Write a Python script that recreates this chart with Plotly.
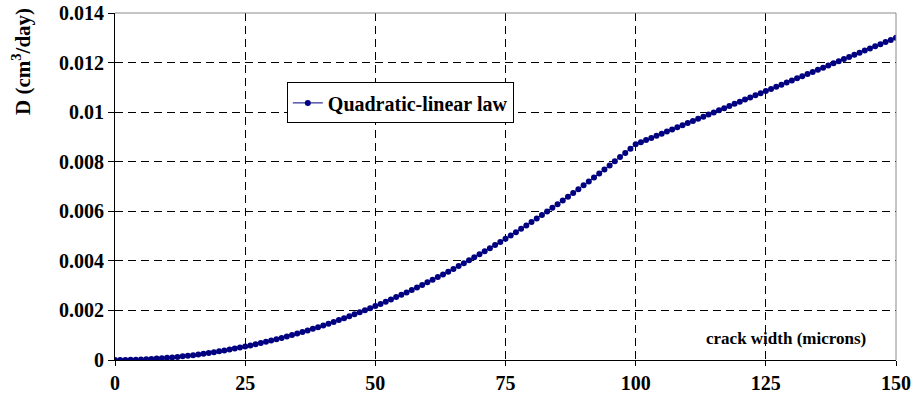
import plotly.graph_objects as go

# Crack width (microns), one point per micron
crack_width = list(range(0, 151))

# Flow rate D (cm^3/day) for the quadratic-linear law
flow_rate = [
    0.000000, 0.000001, 0.000003, 0.000008, 0.000014, 0.000022, 0.000031, 0.000043, 0.000056, 0.000071,
    0.000087, 0.000105, 0.000125, 0.000147, 0.000171, 0.000196, 0.000223, 0.000251, 0.000282, 0.000314,
    0.000348, 0.000384, 0.000421, 0.000460, 0.000501, 0.000544, 0.000588, 0.000634, 0.000682, 0.000732,
    0.000783, 0.000836, 0.000891, 0.000947, 0.001006, 0.001066, 0.001128, 0.001191, 0.001256, 0.001323,
    0.001392, 0.001462, 0.001535, 0.001609, 0.001684, 0.001762, 0.001841, 0.001922, 0.002004, 0.002089,
    0.002175, 0.002263, 0.002352, 0.002444, 0.002537, 0.002632, 0.002728, 0.002827, 0.002927, 0.003028,
    0.003132, 0.003237, 0.003345, 0.003453, 0.003564, 0.003676, 0.003790, 0.003905, 0.004023, 0.004142,
    0.004263, 0.004386, 0.004510, 0.004636, 0.004764, 0.004894, 0.005025, 0.005158, 0.005293, 0.005430,
    0.005568, 0.005708, 0.005850, 0.005993, 0.006139, 0.006286, 0.006435, 0.006585, 0.006737, 0.006891,
    0.007047, 0.007205, 0.007364, 0.007525, 0.007687, 0.007852, 0.008018, 0.008186, 0.008355, 0.008527,
    0.008700, 0.008786, 0.008872, 0.008958, 0.009044, 0.009130, 0.009216, 0.009302, 0.009388, 0.009474,
    0.009560, 0.009646, 0.009732, 0.009818, 0.009904, 0.009990, 0.010076, 0.010162, 0.010248, 0.010334,
    0.010420, 0.010506, 0.010592, 0.010678, 0.010764, 0.010850, 0.010936, 0.011022, 0.011108, 0.011194,
    0.011280, 0.011366, 0.011452, 0.011538, 0.011624, 0.011710, 0.011796, 0.011882, 0.011968, 0.012054,
    0.012140, 0.012226, 0.012312, 0.012398, 0.012484, 0.012570, 0.012656, 0.012742, 0.012828, 0.012914,
    0.013000,
]

x_ticks = [0, 25, 50, 75, 100, 125, 150]
x_tick_labels = ["0", "25", "50", "75", "100", "125", "150"]
y_ticks = [0, 0.002, 0.004, 0.006, 0.008, 0.010, 0.012, 0.014]
y_tick_labels = ["0", "0.002", "0.004", "0.006", "0.008", "0.01", "0.012", "0.014"]

series_name = "Quadratic-linear law"
x_title = "crack width (microns)"
y_title = "D (cm<sup>3</sup>/day)"

SERIF = "Liberation Serif, Times New Roman, serif"
NAVY = "#000080"

fig = go.Figure()
fig.add_trace(go.Scatter(
    x=crack_width,
    y=flow_rate,
    mode="lines+markers",
    name=f"<b>{series_name}</b>",
    line=dict(color=NAVY, width=1),
    marker=dict(color=NAVY, size=6, symbol="circle", line=dict(color=NAVY, width=0)),
    showlegend=True,
))

grid_dash = "8px,5px"

axis_common = dict(
    tickfont=dict(size=20, family=SERIF, color="black"),
    showgrid=True,
    gridcolor="black",
    gridwidth=1,
    griddash=grid_dash,
    showline=True,
    linecolor="black",
    linewidth=1,
    ticks="outside",
    tickcolor="black",
    zeroline=False,
    fixedrange=True,
    automargin=False,
)

fig.update_layout(
    width=915,
    height=409,
    margin=dict(l=115, r=19, t=13, b=49, autoexpand=False),
    paper_bgcolor="white",
    plot_bgcolor="white",
    font=dict(family=SERIF, color="black"),
    xaxis=dict(
        range=[0, 150],
        tickvals=x_ticks,
        ticktext=[f"<b>{t}</b>" for t in x_tick_labels],
        ticklen=5,
        **axis_common,
    ),
    yaxis=dict(
        range=[0, 0.014],
        tickvals=y_ticks,
        ticktext=[f"<b>{t}</b>" for t in y_tick_labels],
        ticklen=6,
        **axis_common,
    ),
    legend=dict(
        x=0.22,
        y=0.80,
        xanchor="left",
        yanchor="top",
        bgcolor="white",
        bordercolor="black",
        borderwidth=1,
        font=dict(size=20, family=SERIF, color="black"),
        itemwidth=30,
    ),
    showlegend=True,
)

# Top and right border of the plot area
fig.add_shape(type="line", xref="paper", yref="paper", x0=0, x1=1, y0=1, y1=1,
              line=dict(color="#8a8a8a", width=1))
fig.add_shape(type="line", xref="paper", yref="paper", x0=1, x1=1, y0=0, y1=1,
              line=dict(color="#8a8a8a", width=1))

# Axis titles
fig.add_annotation(
    text=f"<b>{x_title}</b>",
    xref="paper", yref="paper",
    x=0.964, y=0.063,
    xanchor="right", yanchor="middle",
    showarrow=False,
    font=dict(size=17, family=SERIF, color="black"),
)
fig.add_annotation(
    text=f"<b>{y_title}</b>",
    xref="paper", yref="paper",
    x=-0.119, y=0.859,
    xanchor="center", yanchor="middle",
    textangle=-90,
    showarrow=False,
    font=dict(size=21, family=SERIF, color="black"),
)

fig.write_html("out.html")
